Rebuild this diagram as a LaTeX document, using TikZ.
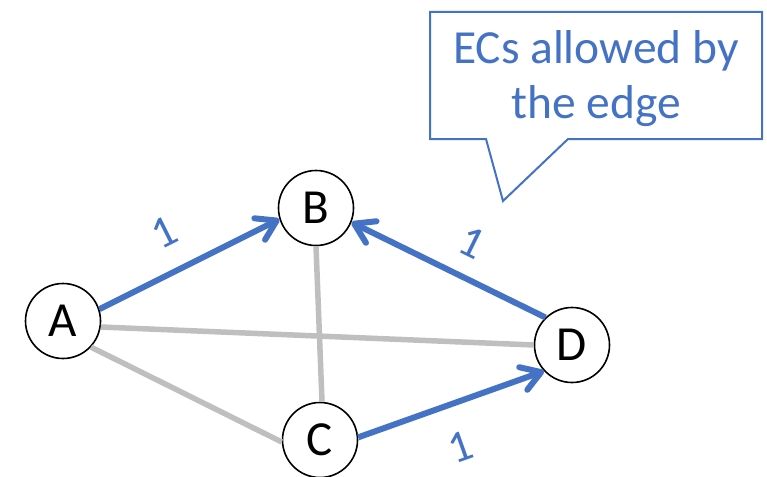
\documentclass[tikz,border=0pt]{standalone}
\usepackage{fontspec}
\setmainfont{Carlito}
\usetikzlibrary{arrows.meta}
\definecolor{eblue}{HTML}{4472C4}
\definecolor{egrey}{HTML}{BFBFBF}
\begin{document}
\begin{tikzpicture}[x=1pt,y=-1pt,
  vertex/.style={circle, draw=black, line width=1.6pt, fill=white, minimum size=75pt, inner sep=0pt, font=\fontsize{49}{52}\selectfont},
  greyedge/.style={draw=egrey, line width=5.5pt},
  blueedge/.style={draw=eblue, line width=6pt, -{Straight Barb[length=19pt,width=24pt,round]}},
  weight/.style={text=eblue, font=\fontsize{45}{46}\selectfont, sloped, anchor=center, inner sep=0pt},
  callout/.style={draw=eblue, line width=2pt, fill=white, line join=miter},
  notetext/.style={text=eblue, align=center, font=\fontsize{47.5}{55}\selectfont}]
\useasboundingbox (0,0) rectangle (767,476);
\node[vertex] (A) at (63,321) {A};
\node[vertex] (B) at (316,208) {B};
\node[vertex] (C) at (320,440) {C};
\node[vertex] (D) at (572,345) {D};
\draw[greyedge] (A.-9) -- (D.180);
\draw[greyedge] (A.-43) -- (C.183);
\draw[greyedge] (B.-90) -- (C.87);
\draw[blueedge] (A.18) -- node[weight, pos=0.46, yshift=40pt] (wab) {1} (B.197);
\draw[blueedge] (D.134) -- node[weight, pos=0.46, yshift=35pt] (wdb) {1} (B.-22);
\draw[blueedge] (C.4) -- node[weight, pos=0.47, yshift=-43pt] (wcd) {1} (D.223);
\coordinate (c1) at (430,12);
\coordinate (c2) at (762,12);
\coordinate (c3) at (762,139);
\coordinate (c4) at (568,139);
\coordinate (tip) at (503,201);
\coordinate (c5) at (486,139);
\coordinate (c6) at (430,139);
\draw[callout] (c1) -- (c2) -- (c3) -- (c4) -- (tip) -- (c5) -- (c6) -- cycle;
\node[notetext] (note) at (596,79) {ECs allowed by\\the edge};
\end{tikzpicture}
\end{document}
